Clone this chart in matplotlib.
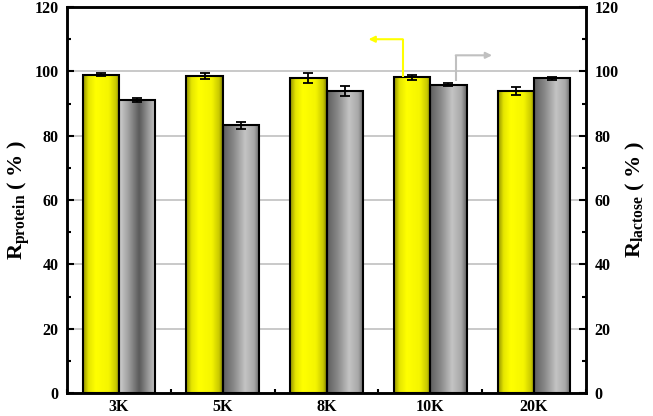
import numpy as np
import matplotlib
matplotlib.use("Agg")
import matplotlib.pyplot as plt
from matplotlib.colors import LinearSegmentedColormap
from matplotlib.ticker import MultipleLocator

categories = ["3K", "5K", "8K", "10K", "20K"]
r_protein = [99.0, 98.5, 97.9, 98.2, 94.0]
r_protein_err = [0.5, 1.0, 1.5, 0.8, 1.2]
r_lactose = [91.0, 83.2, 94.0, 95.9, 97.9]
r_lactose_err = [0.6, 1.2, 1.6, 0.4, 0.5]

plt.rcParams['font.family'] = ['Liberation Serif', 'DejaVu Serif']
plt.rcParams['font.weight'] = 'bold'
plt.rcParams['mathtext.fontset'] = 'custom'
plt.rcParams['mathtext.rm'] = 'Liberation Serif:bold'
plt.rcParams['mathtext.bf'] = 'Liberation Serif:bold'
plt.rcParams['mathtext.it'] = 'Liberation Serif:bold'

fig = plt.figure(figsize=(6.53, 4.16), dpi=100)
ax = fig.add_axes([0.1026, 0.0553, 0.7948, 0.9277])

x = np.arange(len(categories))
w = 0.35

yellow_cmap = LinearSegmentedColormap.from_list(
    "yel", [(0, "#8f8f00"), (0.15, "#e6e600"), (0.35, "#ffff00"),
            (0.7, "#f5f500"), (0.9, "#c8c800"), (1, "#7a7a00")])
gray_cmap_a = LinearSegmentedColormap.from_list(
    "gra", [(0, "#d0d0d0"), (0.25, "#a0a0a0"), (0.55, "#5a5a5a"),
            (0.8, "#9a9a9a"), (1, "#c8c8c8")])
gray_cmap_b = LinearSegmentedColormap.from_list(
    "grb", [(0, "#5e5e5e"), (0.3, "#8a8a8a"), (0.6, "#c4c4c4"),
            (0.85, "#a8a8a8"), (1, "#606060")])

grad = np.linspace(0, 1, 256).reshape(1, -1)

def gradient_bars(xs, heights, cmaps):
    bars = ax.bar(xs, heights, w, facecolor='none', edgecolor='black',
                  linewidth=1.5, zorder=3)
    for b, cm in zip(bars, cmaps):
        x0, y0 = b.get_x(), b.get_y()
        bw, bh = b.get_width(), b.get_height()
        im = ax.imshow(grad, cmap=cm, aspect='auto',
                       extent=[x0, x0 + bw, y0, y0 + bh], zorder=2,
                       interpolation='bicubic')
        im.set_clip_path(b)
    return bars

gradient_bars(x - w / 2, r_protein, [yellow_cmap] * 5)
gradient_bars(x + w / 2, r_lactose, [gray_cmap_a] + [gray_cmap_b] * 4)

ax.errorbar(x - w / 2, r_protein, yerr=r_protein_err, fmt='none',
            ecolor='black', elinewidth=1.3, capsize=3.5, capthick=1.3, zorder=4)
ax.errorbar(x + w / 2, r_lactose, yerr=r_lactose_err, fmt='none',
            ecolor='black', elinewidth=1.3, capsize=3.5, capthick=1.3, zorder=4)

ax.set_xlim(-0.5, len(categories) - 0.5)
ax.set_ylim(0, 120)
ax.set_xticks(x)
ax.set_xticklabels(categories, fontsize=11.5, fontweight='bold')
ax.xaxis.set_minor_locator(MultipleLocator(0.5))
ax.yaxis.set_major_locator(MultipleLocator(20))
ax.yaxis.set_minor_locator(MultipleLocator(10))
for t in ax.get_yticklabels():
    t.set_fontsize(11.5)
    t.set_fontweight('bold')
ax.tick_params(axis='both', which='major', direction='in', length=5, width=1.5, pad=6)
ax.tick_params(axis='both', which='minor', direction='in', length=3, width=1.5)
ax.tick_params(axis='x', which='major', length=3, pad=4)
ax.tick_params(axis='x', which='minor', length=3)

ax.yaxis.grid(True, color='#c0c0c0', linewidth=1.2, zorder=0)
ax.set_axisbelow(True)
for s in ax.spines.values():
    s.set_linewidth(1.8)

ax.set_ylabel(r'$\mathrm{R}_{\mathrm{protein}}$ ( % )', fontsize=16,
              fontweight='bold', labelpad=2)

ax2 = ax.twinx()
ax2.set_ylim(0, 120)
ax2.yaxis.set_major_locator(MultipleLocator(20))
ax2.yaxis.set_minor_locator(MultipleLocator(10))
ax2.tick_params(axis='y', which='major', direction='in', length=5, width=1.5, pad=6,
                labelsize=11.5)
ax2.tick_params(axis='y', which='minor', direction='in', length=3, width=1.5)
for t in ax2.get_yticklabels():
    t.set_fontweight('bold')
for s in ax2.spines.values():
    s.set_linewidth(1.8)
ax2.set_ylabel(r'$\mathrm{R}_{\mathrm{lactose}}$ ( % )', fontsize=16,
               fontweight='bold', labelpad=4)

# indicator arrows (relative to the 10K group)
i = 3
xa = x[i] - w / 2 - 0.09
ya = r_protein[i]
ax.plot([xa, xa], [ya, 110], color='#ffff00', lw=1.5, zorder=5, solid_capstyle='butt')
ax.annotate('', xy=(xa - 0.33, 110), xytext=(xa, 110),
            arrowprops=dict(arrowstyle='-|>', color='#ffff00', lw=1.5,
                            mutation_scale=9, shrinkA=0, shrinkB=0), zorder=5)
xb = x[i] + w / 2 + 0.07
yb = r_lactose[i]
ax.plot([xb, xb], [yb + 1, 105], color='#c0c0c0', lw=1.5, zorder=5, solid_capstyle='butt')
ax.annotate('', xy=(xb + 0.35, 105), xytext=(xb, 105),
            arrowprops=dict(arrowstyle='-|>', color='#c0c0c0', lw=1.5,
                            mutation_scale=9, shrinkA=0, shrinkB=0), zorder=5)

fig.savefig("out.png", dpi=100)
